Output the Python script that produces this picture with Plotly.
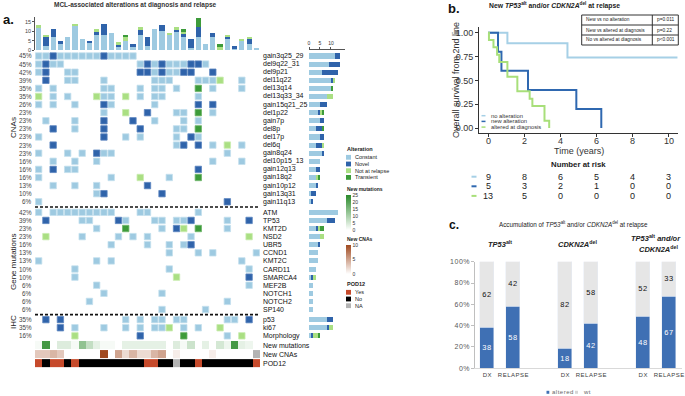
import plotly.graph_objects as go

W, H = 685, 396
def px(v): return v / W
def py(v): return 1 - v / H

FONT = "Liberation Sans, Arial, sans-serif"
HS = "\u200a"  # hair space for letter-spaced labels

def spaced(s):
    return HS.join(list(s))

# ---------------- panel a data ----------------
patients = list(range(31))

cna_names = ["gain3q25_29", "del9q22_31", "del9p21", "del11q22", "del13q14", "del13q33_34",
             "gain15q21_25", "del1p22", "gain7p", "del8p", "del17p", "del6q", "gain8q24",
             "del10p15_13", "gain12q13", "gain18q2", "gain10p12", "gain13q31", "gain11q13"]
cna_pct = [45, 45, 42, 39, 35, 35, 26, 23, 23, 23, 23, 23, 23, 16, 16, 16, 13, 10, 6]
# C constant, N novel, R not at relapse, T transient, . none
cna_calls = [
    "CCNCCCCCCNCCCC" + "." * 17,
    "CNCC" + "." * 10 + "CNCNCCCNNC" + "." * 7,
    "CN..CC" + "." * 8 + "NNCNCCNN..N" + "." * 6,
    ".N..CC...C" + "." * 6 + "CCC...CCCR..C..",
    "C.C" + "." * 6 + "CC" + "..." + "C.CC.C..T.C...C..",
    "R.C.C...RCC.R.C.CC....C" + "." * 8,
    "C.C..C...NC" + "." * 5 + "C" + "." * 5 + "N.N" + "." * 6,
    "." * 9 + "C..R..N...CC.T.C" + "." * 6,
    ".C...C...N...N..C...C.C" + "." * 8,
    "..N..C...N" + "...." + "N" + "...." + "CC.T" + "." * 8,
    "C" + "." * 8 + "N..C.C" + "...." + "C.NC" + "." * 8,
    "..N" + "." * 16 + "CN.N.C.R.C..",
    "C...C.C.NCC" + "." * 15 + "C....",
    "..C..C..C" + "." * 15 + "C...C..",
    "C.N.CC" + "." * 16 + "N" + "." * 8,
    "C" + "." * 9 + "C...R...C...T" + "." * 8,
    "..C..C..C" + "......N" + "." * 15,
    "........CN" + ".......N" + "." * 13,
    "C" + "." * 25 + "N....",
]

mut_names = ["ATM", "TP53", "KMT2D", "NSD2", "UBR5", "CCND1", "KMT2C", "CARD11",
             "SMARCA4", "MEF2B", "NOTCH1", "NOTCH2", "SP140"]
mut_pct = [42, 39, 23, 23, 16, 13, 13, 10, 10, 6, 6, 6, 6]
mut_calls = [
    "C.CCCCCCCCC" + "..." + "CC" + "." * 6 + "C" + "." * 8,
    ".N....CC...NC...CC.CCN" + "...." + "C..N.",
    "........C" + "...T" + "...." + "C.NR.T" + "..." + "C....",
    ".R....C....C.C.C.....C" + "." * 7 + "R.",
    "." * 10 + "C....C..C.CN" + "." * 9,
    "." * 18 + "C...C.C.....C",
    "C.......C.C" + "." * 17 + "C..",
    ".....C" + "." * 12 + "C" + "." * 10 + "C.",
    ".....C" + "." * 13 + "R" + "." * 9 + "N.",
    "........C" + "." * 20 + "C.",
    "." * 9 + "C" + "." * 7 + "C" + "." * 13,
    "." * 7 + "C" + "." * 18 + "C....",
    "." * 17 + "C....." + "C" + "." * 7,
]

ihc_names = ["p53", "ki67", "Morphology"]
ihc_pct = [35, 35, 16]
ihc_calls = [
    ".N.N" + "." * 8 + "C.C.CC.CC" + "....." + "CC.N.",
    "...N.C...C..C.C.CCR.C.C..R" + ".....",
    ".....R" + "." * 8 + "N" + "....." + "T" + "....." + "C.R..",
]

# top bar chart (alterations per patient)
top_constant = [12, 2, 7, 3, 7, 13, 6, 4, 8, 8, 9, 2, 5, 2, 8, 2, 11, 10, 8, 10, 7, 1, 7, 3, 7, 0, 6, 1, 5, 3, 1]
top_novel = [0, 5, 4, 2, 0, 0, 0, 1, 2, 6, 0, 1, 0, 1, 3, 5, 0, 3, 0, 1, 2, 5, 5, 0, 2, 0, 1, 1, 0, 3, 0]
top_not_relapse = [1, 1, 0, 0, 0, 1, 0, 0, 1, 0, 0, 1, 2, 0, 1, 0, 0, 0, 1, 1, 1, 0, 0, 0, 0, 2, 1, 0, 1, 1, 0]
top_transient = [0, 0, 0, 0, 0, 0, 0, 0, 0, 0, 0, 0, 1, 0, 0, 0, 0, 0, 0, 0, 1, 0, 5, 0, 0, 1, 0, 0, 0, 0, 0]

new_mutations = [1, 22, 0, 4, 4, 1, 13, 7, 3, 1, 1, 0, 3, 3, 3, 3, 3, 3, 0, 4, 1, 6, 0, 3, 0, 5, 2, 22, 3, 2, 0]
new_cnas = [3, 3, 4, 3, 0, 0, 0, 0, 0, 10, 0, 5, 2, 4, 2, 2, 4, 5, 0, 1, 0, 0, 0, 0, 1, 0, 0, 0, 0, 0, None]
pod12 = ["Yes", "No", "Yes", "Yes", "No", "Yes", "No", "No", "No", "No", "No", "No", "No", "No", "No",
         "Yes", "Yes", "No", "No", "NA", "No", "No", "Yes", "No", "No", "No", "No", "No", "No", "No", "Yes"]

# ---------------- panel b data ----------------
km_none_t = [0, 1.07, 4.39, 10.47]
km_none_s = [1.0, 0.889, 0.741, 0.741]
km_new_t = [0, 0.55, 0.74, 2.21, 4.88, 6.26]
km_new_s = [1.0, 0.8, 0.6, 0.4, 0.2, 0.0]
km_dx_t = [0, 0.05, 0.3, 0.5, 0.62, 1.07, 1.62, 2.3, 2.45, 3.12, 3.38]
km_dx_s = [1.0, 0.923, 0.846, 0.769, 0.692, 0.538, 0.385, 0.308, 0.231, 0.077, 0.0]
km_xticks = [0, 2, 4, 6, 8, 10]
risk_times = [0, 2, 4, 6, 8, 10]
risk_none = [9, 8, 6, 5, 4, 3]
risk_new = [5, 3, 2, 1, 0, 0]
risk_dx = [13, 5, 0, 0, 0, 0]
p_labels = ["New vs no alteration", "New vs altered at diagnosis", "No vs altered at diagnosis"]
p_values = ["p=0.011", "p=0.22", "p<0.001"]

# ---------------- panel c data ----------------
c_pos = [0, 1, 3, 4, 6, 7]
c_ticks = ["DX", "RELAPSE", "DX", "RELAPSE", "DX", "RELAPSE"]
c_altered = [38, 58, 18, 42, 48, 67]
c_wt = [62, 42, 82, 58, 52, 33]
c_yticks = [0, 20, 40, 60, 80, 100]

# ---------------- styles ----------------
ALT_COL = {"C": "#9ecae1", "N": "#2f63aa", "R": "#aadf83", "T": "#3d9b3a"}
ALT_EDGE = {"C": "#c4dfee", "N": "#5d86c0", "R": "#c9ecb0", "T": "#6db56a"}
KM_COL = ["#a6d0e6", "#2f68b0", "#a8df7a"]
C_ALT = "#3f70b4"
C_WT = "#e6e6e6"

fig = go.Figure()

all_names = cna_names + mut_names + ihc_names
all_pct = cna_pct + mut_pct + ihc_pct
all_calls = cna_calls + mut_calls + ihc_calls
for s in all_calls:
    assert len(s) == 31, s
all_pos = [float(k) for k in range(len(cna_names))]
all_pos += [19.3 + j for j in range(len(mut_names))]
all_pos += [32.55 + m for m in range(len(ihc_names))]
heat_pos = [35.7, 36.82, 37.94]

# top bars
for code, vals in zip("CNRT", [top_constant, top_novel, top_not_relapse, top_transient]):
    fig.add_trace(go.Bar(x=patients, y=vals, xaxis="x", yaxis="y3", width=0.72,
                         marker=dict(color=ALT_COL[code], line=dict(width=0)),
                         hoverinfo="skip", showlegend=False))

# grid cells
for code in "CNRT":
    xs, ys = [], []
    for pos, calls in zip(all_pos, all_calls):
        for c, ch in enumerate(calls):
            if ch == code:
                xs.append(c)
                ys.append(pos)
    fig.add_trace(go.Scatter(x=xs, y=ys, mode="markers", xaxis="x", yaxis="y",
                             marker=dict(symbol="square", size=6.4, color=ALT_COL[code],
                                         line=dict(width=0.8, color=ALT_EDGE[code])),
                             hoverinfo="skip", showlegend=False))

# right bars (counts per alteration row)
for code in "CNRT":
    fig.add_trace(go.Bar(x=[calls.count(code) for calls in all_calls], y=all_pos, orientation="h",
                         xaxis="x2", yaxis="y", width=0.62,
                         marker=dict(color=ALT_COL[code], line=dict(width=0)),
                         hoverinfo="skip", showlegend=False))

# annotation heat rows
fig.add_trace(go.Heatmap(z=[new_mutations], x0=0, dx=1, y0=heat_pos[0], dy=1.03, xaxis="x", yaxis="y",
                         zmin=0, zmax=25, colorscale=[[0, "#ffffff"], [1, "#2a8a2a"]],
                         colorbar=dict(x=px(346), xanchor="left", y=py(195), yanchor="top",
                                       len=35, lenmode="pixels", thickness=4.5, thicknessmode="pixels",
                                       outlinewidth=0, xpad=0, ypad=0, ticks="", tickvals=[0, 5, 10, 15, 20, 25],
                                       tickfont=dict(size=5, color="#333", family=FONT)),
                         hoverinfo="skip"))
fig.add_trace(go.Heatmap(z=[new_cnas], x0=0, dx=1, y0=heat_pos[1], dy=1.03, xaxis="x", yaxis="y",
                         zmin=0, zmax=10, colorscale=[[0, "#ffffff"], [1, "#a0491f"]],
                         colorbar=dict(x=px(346), xanchor="left", y=py(244.8), yanchor="top",
                                       len=29.2, lenmode="pixels", thickness=4.5, thicknessmode="pixels",
                                       outlinewidth=0, xpad=0, ypad=0, ticks="", tickvals=[0, 5, 10],
                                       tickfont=dict(size=5, color="#333", family=FONT)),
                         hoverinfo="skip"))
fig.add_trace(go.Heatmap(z=[[1 if v is None else None for v in new_cnas]], x0=0, dx=1, y0=heat_pos[1], dy=1.03,
                         xaxis="x", yaxis="y", zmin=0, zmax=1,
                         colorscale=[[0, "#b3b3b3"], [1, "#b3b3b3"]], showscale=False, hoverinfo="skip"))
pod_code = {"Yes": 0, "No": 1, "NA": 2}
pod_cols = ["#c64a2b", "#000000", "#b3b3b3"]
fig.add_trace(go.Heatmap(z=[[pod_code[v] for v in pod12]], x0=0, dx=1, y0=heat_pos[2], dy=1.03,
                         xaxis="x", yaxis="y", zmin=-0.5, zmax=2.5,
                         colorscale=[[0, pod_cols[0]], [0.333, pod_cols[0]], [0.334, pod_cols[1]],
                                     [0.666, pod_cols[1]], [0.667, pod_cols[2]], [1, pod_cols[2]]],
                         showscale=False, hoverinfo="skip"))

# KM curves
for t, s, col in [(km_none_t, km_none_s, KM_COL[0]), (km_new_t, km_new_s, KM_COL[1]), (km_dx_t, km_dx_s, KM_COL[2])]:
    fig.add_trace(go.Scatter(x=t, y=s, mode="lines", xaxis="x4", yaxis="y4",
                             line=dict(shape="hv", width=2, color=col), hoverinfo="skip", showlegend=False))

# panel c bars
fig.add_trace(go.Bar(x=c_pos, y=c_altered, xaxis="x5", yaxis="y5", width=0.56, marker=dict(color=C_ALT),
                     text=[spaced(str(v)) for v in c_altered], textposition="inside", insidetextanchor="middle",
                     textangle=0, constraintext="none",
                     textfont=dict(size=7.5, color="white", family=FONT), hoverinfo="skip", showlegend=False))
fig.add_trace(go.Bar(x=c_pos, y=c_wt, xaxis="x5", yaxis="y5", width=0.56, marker=dict(color=C_WT),
                     text=[spaced(str(v)) for v in c_wt], textposition="inside", insidetextanchor="middle",
                     textangle=0, constraintext="none",
                     textfont=dict(size=7.5, color="#111", family=FONT), hoverinfo="skip", showlegend=False))

ann = []
shapes = []

def A(text, x, y, size, xanchor="center", yanchor="middle", color="#222", family=FONT, **kw):
    ann.append(dict(text=text, x=px(x), y=py(y), xref="paper", yref="paper", xanchor=xanchor,
                    yanchor=yanchor, showarrow=False, font=dict(size=size, color=color, family=family), **kw))

def R(x0, y0, x1, y1, color, line=None):
    shapes.append(dict(type="rect", xref="paper", yref="paper", x0=px(x0), x1=px(x1), y0=py(y1), y1=py(y0),
                       fillcolor=color, line=dict(width=0) if line is None else line, layer="above"))

def L(x0, y0, x1, y1, color, width, dash=None):
    shapes.append(dict(type="line", xref="paper", yref="paper", x0=px(x0), x1=px(x1), y0=py(y0), y1=py(y1),
                       line=dict(color=color, width=width, dash=dash), layer="above"))

# ---- panel a text ----
A("<b>a.</b>", 1, 19, 13, xanchor="left", color="#111")
A("<b>MCL-associated alterations at diagnosis and relapse</b>", 135, 5, 6.5, color="#333")
for name, pct, pos in zip(all_names, all_pct, all_pos):
    ann.append(dict(text=f"{pct}%", x=-0.5, y=pos, xref="x", yref="y", xanchor="right", xshift=-1,
                    showarrow=False, font=dict(size=6.3, color="#444", family=FONT)))
    ann.append(dict(text=name, x=30.5, y=pos, xref="x", yref="y", xanchor="left", xshift=1,
                    showarrow=False, font=dict(size=7, color="#111", family=FONT)))
for name, pos in zip(["New mutations", "New CNAs", "POD12"], heat_pos):
    ann.append(dict(text=name, x=30.5, y=pos, xref="x", yref="y", xanchor="left", xshift=1,
                    showarrow=False, font=dict(size=7, color="#111", family=FONT)))
A("CNAs", 13, 128, 8, textangle=-90)
A("Gene mutations", 13, 262, 8, textangle=-90)
A("IHC", 13, 322, 8, textangle=-90)
for yv in [(all_pos[18] + all_pos[19]) / 2, (all_pos[31] + all_pos[32]) / 2]:
    shapes.append(dict(type="line", xref="x", yref="y", x0=-0.5, x1=30.5, y0=yv, y1=yv,
                       line=dict(color="#111", width=1.6, dash="3px,2px"), layer="above"))

# right-side legends
A("<b>Alteration</b>", 345, 148.5, 5.5, xanchor="left")
for i, code in enumerate("CNRT"):
    yc = 157.3 + i * 6.7
    R(346, yc - 2.4, 351, yc + 2.4, ALT_COL[code])
    A(["Constant", "Novel", "Not at relapse", "Transient"][i], 352.5, yc, 5.5, xanchor="left")
A("<b>New mutations</b>", 345, 189, 5, xanchor="left")
A("<b>New CNAs</b>", 345, 239, 5, xanchor="left")
A("<b>POD12</b>", 345, 283.5, 5.5, xanchor="left")
for i, lab in enumerate(["Yes", "No", "NA"]):
    yc = 292.3 + i * 6.7
    R(346, yc - 2.4, 351, yc + 2.4, pod_cols[i])
    A(lab, 352.5, yc, 5.5, xanchor="left")

# ---- panel b text ----
A("<b>b.</b>", 446, 8, 13, xanchor="left", color="#111")
A("<b>New <i>TP53</i><sup>alt</sup> and/or <i>CDKN2A</i><sup>del</sup> at relapse</b>", 554, 5, 6.8, color="#222")
A("Overall survival from 2nd line", 456, 80, 9, color="#333", textangle=-90)
A("Time (years)", 579, 151, 9, color="#333")
for tv in km_xticks:
    ann.append(dict(text=str(tv), x=tv, y=py(140.7), xref="x4", yref="paper", xanchor="center",
                    yanchor="middle", showarrow=False, font=dict(size=9, color="#333", family=FONT)))
for i, lab in enumerate(["no alteration", "new alteration", "altered at diagnosis"]):
    yc = 115.7 + i * 5.7
    L(481.5, yc, 485.5, yc, KM_COL[i], 1.5)
    A(lab, 488.5, yc, 5.8, xanchor="left", color="#333")
# p table
R(581.7, 15, 678.3, 45, "rgba(0,0,0,0)", line=dict(color="#333", width=1))
L(581.7, 25, 678.3, 25, "#333", 1)
L(581.7, 35, 678.3, 35, "#333", 1)
L(652.3, 15, 652.3, 45, "#333", 1)
for i, (lab, pv) in enumerate(zip(p_labels, p_values)):
    A(lab, 584, 20 + 10 * i, 4.8, xanchor="left", color="#222")
    A(pv, 654.5, 20 + 10 * i, 4.8, xanchor="left", color="#222")
A("<b>Number at risk</b>", 578, 164.3, 7.8, color="#222")
for i, vals in enumerate([risk_none, risk_new, risk_dx]):
    yc = 176.7 + 9.6 * i
    L(471.5, yc, 476.5, yc, KM_COL[i], 2)
    for tv, v in zip(risk_times, vals):
        ann.append(dict(text=str(v), x=tv, y=py(yc), xref="x4", yref="paper", xanchor="center", yanchor="middle",
                        borderpad=0, showarrow=False, font=dict(size=9, color="#222", family=FONT)))

# ---- panel c text ----
A("<b>c.</b>", 447, 225, 12, xanchor="left", color="#111")
A("Accumulation of <i>TP53</i><sup>alt</sup> and/or <i>CDKN2A</i><sup>del</sup> at relapse", 573, 224, 6.3, color="#222")
A("<b><i>TP53</i><sup>alt</sup></b>", 500, 243.5, 7.5, color="#222")
A("<b><i>CDKN2A</i><sup>del</sup></b>", 577, 243.5, 7.5, color="#222")
A("<b><i>TP53</i><sup>alt</sup><i> and/or</i></b>", 656, 238.3, 7.5, color="#222")
A("<b><i>CDKN2A</i><sup>del</sup></b>", 658, 249.3, 7.5, color="#222")
R(546.5, 390.8, 549.3, 393.8, C_ALT)
A(spaced("altered"), 550, 392.3, 6, xanchor="left", color="#666")
R(575, 390.8, 578, 393.8, "#d6d6d6")
A(spaced("wt"), 580.5, 392.3, 6, xanchor="left", color="#666")

axis_common = dict(showgrid=False, zeroline=False, fixedrange=True)
fig.update_layout(
    width=W, height=H, margin=dict(l=0, r=0, t=0, b=0, autoexpand=False),
    paper_bgcolor="white", plot_bgcolor="white", showlegend=False, barmode="stack", bargap=0,
    font=dict(family=FONT, color="#222"),
    uniformtext=dict(minsize=7, mode="show"),
    xaxis=dict(domain=[px(35), px(260)], range=[-0.5, 30.5], visible=False, anchor="y", **axis_common),
    yaxis=dict(domain=[py(368), py(50)], range=[38.52, -0.74], visible=False, anchor="x", **axis_common),
    xaxis2=dict(domain=[px(309), px(345)], range=[0, 16.4], anchor="y", side="top", showline=True,
                linecolor="#555", linewidth=0.8, ticks="outside", ticklen=2, tickwidth=0.8, tickcolor="#555",
                tickvals=[0, 5, 10], tickfont=dict(size=5, color="#333"), **axis_common),
    yaxis3=dict(domain=[py(50), py(17)], range=[0, 17.5], anchor="x", showline=True, linecolor="#555",
                linewidth=0.8, ticks="outside", ticklen=2, tickwidth=0.8, tickcolor="#555",
                tickvals=[0, 5, 10, 15], tickfont=dict(size=5.5, color="#444"), **axis_common),
    xaxis4=dict(domain=[px(479), px(678)], range=[-0.5, 10.5], anchor="y4", showline=True, linecolor="#333",
                linewidth=1, ticks="outside", ticklen=3, tickcolor="#333", tickvals=km_xticks,
                showticklabels=False, **axis_common),
    yaxis4=dict(domain=[py(132.5), py(26.7)], range=[-0.046, 1.0625], anchor="x4", showline=True,
                linecolor="#333", linewidth=1, ticks="outside", ticklen=3, tickcolor="#333",
                tickvals=[0, 0.25, 0.5, 0.75, 1.0], ticktext=["0.00", "0.25", "0.50", "0.75", "1.00"],
                tickfont=dict(size=9, color="#333"), **axis_common),
    xaxis5=dict(domain=[px(475), px(682)], range=[-0.47, 7.5], anchor="y5", showline=True, linecolor="#d9d9d9",
                linewidth=1, ticks="", tickvals=c_pos, ticktext=[spaced(t) for t in c_ticks], tickangle=0,
                tickfont=dict(size=6, color="#404040"), **axis_common),
    yaxis5=dict(domain=[py(368.3), py(261.7)], range=[0, 100], anchor="x5", showline=True, linecolor="#bfbfbf",
                linewidth=1, ticks="outside", ticklen=3, tickcolor="#bfbfbf", tickvals=c_yticks,
                ticktext=[spaced(f"{v}%") for v in c_yticks], tickfont=dict(size=7, color="#595959"),
                **axis_common),
    annotations=ann, shapes=shapes,
)

fig.write_html("out.html", config={"displayModeBar": False},
               post_script="document.body.style.margin='0';document.body.style.overflow='hidden';"
                           "window.dispatchEvent(new Event('resize'));")
